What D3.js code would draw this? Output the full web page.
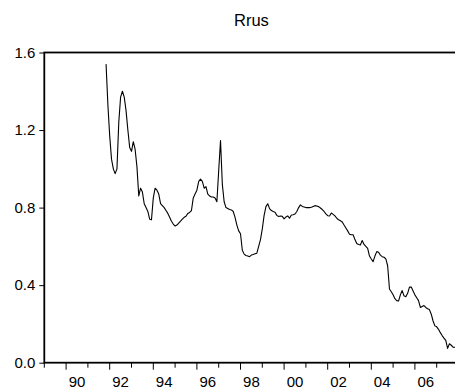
<!DOCTYPE html>
<html>
<head>
<meta charset="utf-8">
<script src="https://cdn.jsdelivr.net/npm/d3@7"></script>
<style>
  body { margin: 0; background: #fff; }
  svg { display: block; font-family: "Liberation Sans", Arial, sans-serif; }
</style>
</head>
<body>
<div id="chart"></div>
<script>
  /* DATA */
  const title = "Rrus";
  const startYear = 1991, startMonth = 11;   // first observation, monthly series
  const rrusValues = [
    1.54, 1.33, 1.17, 1.05, 1.00, 0.975, 1.00, 1.24, 1.37, 1.40, 1.37, 1.30,
    1.20, 1.11, 1.09, 1.14, 1.10, 1.01, 0.86, 0.90, 0.88, 0.82, 0.80, 0.78,
    0.74, 0.737, 0.85, 0.90, 0.89, 0.87, 0.82, 0.81, 0.80, 0.785, 0.77, 0.75,
    0.73, 0.715, 0.705, 0.71, 0.72, 0.73, 0.74, 0.75, 0.755, 0.77, 0.775, 0.785,
    0.85, 0.87, 0.89, 0.935, 0.947, 0.935, 0.90, 0.908, 0.87, 0.86, 0.855, 0.855,
    0.85, 0.83, 0.99, 1.146, 0.92, 0.83, 0.80, 0.795, 0.79, 0.788, 0.78, 0.75,
    0.71, 0.68, 0.665, 0.58, 0.56, 0.553, 0.55, 0.547, 0.555, 0.558, 0.562, 0.565,
    0.60, 0.635, 0.69, 0.76, 0.805, 0.82, 0.795, 0.785, 0.78, 0.776, 0.76, 0.754,
    0.757, 0.755, 0.742, 0.752, 0.757, 0.745, 0.762, 0.763, 0.767, 0.78, 0.80, 0.814,
    0.806, 0.803, 0.80, 0.80, 0.80, 0.802, 0.806, 0.81, 0.808, 0.805, 0.798, 0.79,
    0.78, 0.768, 0.758, 0.757, 0.772, 0.765, 0.757, 0.745, 0.737, 0.732, 0.726, 0.71,
    0.695, 0.68, 0.663, 0.66, 0.66, 0.635, 0.615, 0.61, 0.607, 0.63, 0.61, 0.60,
    0.59, 0.55, 0.535, 0.521, 0.55, 0.573, 0.57, 0.555, 0.547, 0.544, 0.535, 0.50,
    0.38, 0.366, 0.35, 0.33, 0.32, 0.318, 0.35, 0.372, 0.345, 0.34, 0.358, 0.39,
    0.39, 0.37, 0.35, 0.335, 0.32, 0.285, 0.29, 0.295, 0.285, 0.278, 0.274, 0.25,
    0.215, 0.19, 0.185, 0.172, 0.155, 0.14, 0.127, 0.115, 0.074, 0.098, 0.09, 0.08,
    0.079
  ];
  const yTicks = [0.0, 0.4, 0.8, 1.2, 1.6];
  const yearTicks = d3.range(1989, 2009);          // one tick per year
  const yearLabels = ["90", "92", "94", "96", "98", "00", "02", "04", "06"];
  const labelYears = [1990, 1992, 1994, 1996, 1998, 2000, 2002, 2004, 2006];

  /* LAYOUT */
  const width = 455, height = 392,
        margin = {top: 52.5, bottom: 29.3, left: 44.3, right: -3.5};

  const data = rrusValues.map((v, i) => ({
    t: startYear + (startMonth - 1 + i) / 12,
    value: v
  }));

  const svg = d3.select("#chart").append("svg")
      .attr("width", width)
      .attr("height", height);

  const xScale = d3.scaleLinear()
      .domain([1989, 2008])
      .range([margin.left, width - margin.right]);

  const yScale = d3.scaleLinear()
      .domain([0, 1.6])
      .range([height - margin.bottom, margin.top]);

  // title
  svg.append("text")
      .attr("x", (xScale.range()[0] + xScale.range()[1]) / 2)
      .attr("y", 26)
      .attr("text-anchor", "middle")
      .attr("font-size", "16.5px")
      .attr("fill", "#000")
      .text(title);

  // y axis
  const yAxis = d3.axisLeft(yScale)
      .tickValues(yTicks)
      .tickFormat(d3.format(".1f"))
      .tickSize(5)
      .tickPadding(4);

  const yAxisGroup = svg.append("g")
      .attr("transform", `translate(${margin.left},0)`)
      .call(yAxis);
  yAxisGroup.select(".domain").remove();
  yAxisGroup.selectAll("text").attr("font-size", "15px").attr("fill", "#000")
      .attr("font-family", "Liberation Sans, Arial, sans-serif");
  yAxisGroup.selectAll("line").attr("stroke", "#000");

  // x axis ticks (long at even years)
  const xAxisGroup = svg.append("g")
      .attr("transform", `translate(0,${yScale(0)})`);
  xAxisGroup.selectAll("line.tick")
      .data(yearTicks)
      .join("line")
      .attr("class", "tick")
      .attr("x1", d => xScale(d)).attr("x2", d => xScale(d))
      .attr("y1", 0)
      .attr("y2", d => d % 2 === 0 ? 7 : 5)
      .attr("stroke", "#000");
  xAxisGroup.selectAll("text")
      .data(labelYears)
      .join("text")
      .attr("x", d => xScale(d + 0.5))
      .attr("y", 24.5)
      .attr("text-anchor", "middle")
      .attr("font-size", "15px")
      .attr("fill", "#000")
      .text((d, i) => yearLabels[i]);

  // frame
  const x0 = xScale.range()[0], x1 = xScale.range()[1],
        y0 = yScale(0), y1 = yScale(1.6);
  svg.append("rect")
      .attr("x", x0).attr("y", y1)
      .attr("width", x1 - x0).attr("height", y0 - y1)
      .attr("fill", "none")
      .attr("stroke", "#000")
      .attr("stroke-width", 1.8);

  // series line
  const line = d3.line()
      .x(d => xScale(d.t))
      .y(d => yScale(d.value));

  svg.append("path")
      .datum(data)
      .attr("fill", "none")
      .attr("stroke", "#000")
      .attr("stroke-width", 1.1)
      .attr("stroke-linejoin", "round")
      .attr("d", line);
</script>
</body>
</html>
